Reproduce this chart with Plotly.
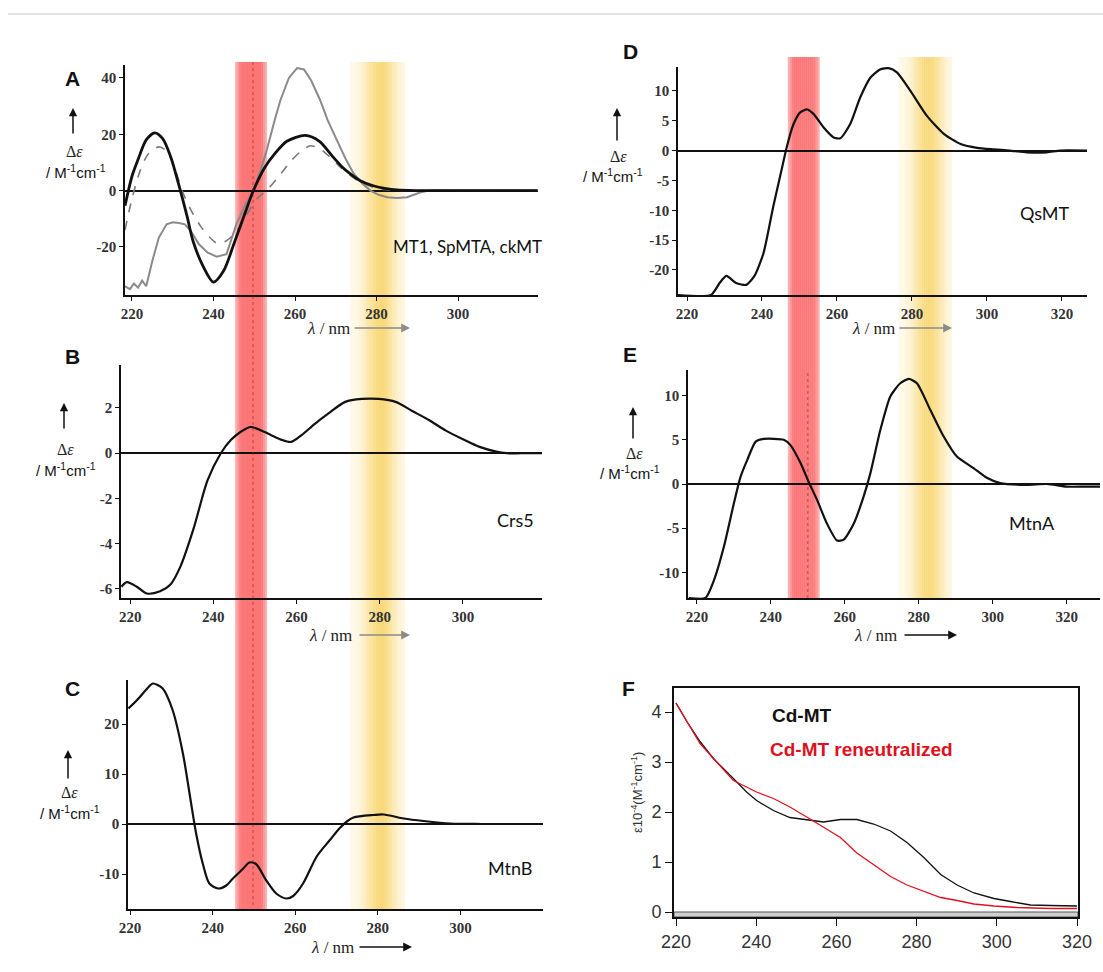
import plotly.graph_objects as go
import math

W, H = 1103, 972

# ---------------- data ----------------
A_black_wl = [218.3, 220, 221.5, 223.5, 225.6, 227.5, 229.5, 231.5, 233.5, 235, 237.5, 240, 242.5, 245, 247.5,
              249.8, 252.5, 255, 258, 262.5, 266, 269, 271.5, 273.5, 276, 279, 282, 285, 290, 300, 310, 319.5]
A_black_val = [-5.4, 5, 11, 18, 20.5, 18.5, 12, 2, -9, -18, -27, -32.5, -28.5, -19, -9,
               0, 8, 13, 17.5, 19.6, 17.5, 12.5, 8.5, 6, 3.5, 1.8, 0.8, 0.2, 0, 0, 0, 0]
A_gray_wl = [218.3, 219.5, 220.5, 221.5, 222.5, 223.5, 225, 226.6, 228.5, 230, 231.5, 233, 234.5, 236.4, 238.5,
             240.8, 243.2, 245.6, 247.5, 249.8, 251.5, 253, 255, 256.4, 258.5, 260.5, 262.2, 264, 266.2, 268,
             270.3, 272.5, 274.4, 276.5, 278.5, 280.5, 282.6, 285, 287.5, 290.8, 293, 300, 310, 319.5]
A_gray_val = [-34, -35, -33, -34.5, -32, -34, -25, -16.7, -12, -11.3, -11.5, -12, -14.5, -19, -22,
              -23.5, -22.6, -12, -6, 0, 7, 14, 25, 32, 40, 43.5, 43, 39, 32, 25,
              17.8, 11, 6, 2.5, 0, -1.5, -2.4, -2.6, -2.4, -0.6, 0, 0, 0, 0]
A_dash_wl = [218.3, 220, 222, 224, 226.6, 228.5, 230.5, 232.3, 234.5, 237, 239, 241, 243, 245.6, 248, 250.6,
             253, 256, 259, 261.5, 263.8, 266, 268.5, 271, 273.5, 276, 278.5, 280.8, 285, 295, 319.5]
A_dash_val = [-14, -3, 7, 13, 15.5, 14, 8, 0, -7, -13, -16.5, -18.8, -18, -14.6, -9, -3,
              0, 5, 10.5, 14, 15.9, 15, 12, 8.5, 5.4, 3, 1.5, 0.6, 0, 0, 0]

B_wl = [217.9, 219.2, 221.6, 224, 227.2, 229.7, 232.1, 235.3, 238.6, 241.8, 244.2, 246.6, 249, 251.5, 253.9,
        256.3, 258.7, 261.2, 264.4, 267.6, 271.7, 275.7, 279.7, 283.8, 287.8, 291.9, 295.9, 300, 304, 308,
        310.5, 314, 319]
B_val = [-5.9, -5.7, -5.9, -6.2, -6.1, -5.8, -5.0, -3.3, -1.2, 0, 0.58, 0.95, 1.16, 1.0, 0.8,
         0.6, 0.5, 0.8, 1.3, 1.75, 2.27, 2.4, 2.4, 2.27, 1.87, 1.46, 1.0, 0.62, 0.28, 0.07,
         0, 0, 0]

C_wl = [219.6, 221.7, 224.6, 225.5, 227.9, 230.3, 232.8, 234.4, 236, 237.6, 239.2, 241.3, 243.3, 244.9, 247.3,
        248.9, 250.5, 253, 255.4, 257.9, 259.5, 261.9, 265.2, 268.4, 270.8, 272.5, 274.1, 279, 281.4, 286.3,
        291.1, 297.6, 305, 320]
C_val = [23.1, 24.8, 27.5, 28.1, 27.1, 22.8, 14.1, 6.1, -1.9, -7.9, -11.9, -12.9, -12.3, -10.9, -9,
         -7.7, -8, -11.3, -13.9, -14.9, -14.4, -11.9, -6.5, -3.2, -0.8, 0.5, 1.3, 1.8, 1.9, 1.1,
         0.6, 0.1, 0, 0]

D_wl = [217.6, 226.4, 228.7, 230.5, 233.1, 235.8, 238, 240.4, 243, 245.2, 246.6, 248.4, 250.2, 252, 253.8,
        256.4, 259.1, 260.9, 263.5, 266.2, 268.9, 271.5, 273.8, 276, 279.6, 284, 288.5, 293, 297.4, 301.8,
        306, 310.7, 316, 319.6, 326.7]
D_val = [-24.2, -24.2, -22.2, -21, -22.2, -22.5, -21, -17.2, -9.4, -3.3, 0.56, 4.4, 6.4, 6.9, 6.1,
         3.9, 2.2, 2.05, 4.4, 8.9, 12.2, 13.6, 13.8, 13.1, 10, 5.8, 2.8, 1.1, 0.45, 0.2,
         0, -0.3, -0.3, 0, 0]

E_wl = [217.8, 222.3, 224.6, 227.3, 230, 231.8, 233.6, 235.9, 238.1, 243.5, 245.3, 248, 250.2, 252.5, 255.2,
        257.9, 259.7, 262.4, 265.1, 266.9, 269.6, 272.3, 275, 277.3, 279.5, 283.1, 286.7, 290.3, 294.8, 298.4,
        302, 309.2, 314.6, 320, 325, 329]
E_val = [-12.9, -12.9, -10.9, -7.1, -2.2, 0.8, 2.7, 4.8, 5.1, 5, 4.4, 2.4, 0.26, -1.8, -4.5,
         -6.4, -6.3, -4.5, -1.4, 1.2, 6.1, 9.9, 11.4, 11.9, 11.4, 8.4, 5.4, 3.1, 1.8, 0.7,
         0.1, -0.1, 0, -0.3, -0.3, -0.3]

F_wl = [220, 222.7, 226, 229.3, 234.3, 237.6, 240.1, 244.3, 248.4, 252.6, 256.8, 261, 265.1, 269.3, 273.5,
        277.6, 281.8, 286, 290.1, 294.3, 299.3, 303.4, 308.4, 313.4, 320]
F_cd = [4.18, 3.81, 3.41, 3.07, 2.67, 2.4, 2.23, 2.03, 1.89, 1.85, 1.8, 1.85, 1.85, 1.76, 1.62,
        1.39, 1.09, 0.75, 0.54, 0.38, 0.27, 0.21, 0.14, 0.13, 0.12]
F_re_wl = [220, 226, 234.3, 240.1, 244.3, 248.4, 252.6, 256.8, 261, 265.1, 269.3, 273.5, 277.6, 281.8,
           286, 290.1, 294.3, 299.3, 305, 313.4, 320]
F_re = [4.18, 3.37, 2.63, 2.4, 2.27, 2.1, 1.9, 1.69, 1.49, 1.18, 0.95, 0.71, 0.54, 0.41,
        0.29, 0.23, 0.16, 0.12, 0.09, 0.07, 0.07]

A_yticks = [-20, 0, 20, 40]
B_yticks = [-6, -4, -2, 0, 2]
C_yticks = [-10, 0, 10, 20]
D_yticks = [-20, -15, -10, -5, 0, 5, 10]
E_yticks = [-10, -5, 0, 5, 10]
F_yticks = [0, 1, 2, 3, 4]
X_ticks_short = [220, 240, 260, 280, 300]
X_ticks_long = [220, 240, 260, 280, 300, 320]

RED_BAND_L = (245.3, 253.1)
YEL_BAND_L = (273.5, 287.0)
RED_BAND_R = (244.6, 253.2)
YEL_BAND_R = (274.6, 289.0)


def PX(x):
    return x / W


def PY(y):
    return 1 - y / H


fig = go.Figure()

serif_tick = dict(family="Liberation Serif", size=15, color="#333333", weight="bold")

panels = [
    ("1", (125, 538), (65, 295), (218.3, 319.6), (-37.1, 44.6), A_yticks, X_ticks_short),
    ("2", (121, 542), (365, 598), (217.8, 319.0), (-6.4, 3.9), B_yticks, X_ticks_short),
    ("3", (128, 543), (680, 909), (219.5, 320.0), (-17.0, 28.8), C_yticks, X_ticks_short),
    ("4", (678, 1087), (67, 295), (217.6, 326.7), (-24.2, 14.0), D_yticks, X_ticks_long),
    ("5", (688, 1100), (370, 598), (217.6, 329.0), (-12.9, 12.9), E_yticks, X_ticks_long),
]

layout = dict(
    width=W, height=H, margin=dict(l=0, r=0, t=0, b=0, pad=0), autosize=False,
    paper_bgcolor="white", plot_bgcolor="rgba(0,0,0,0)", showlegend=False,
)

for name, xd, yd, xr, yr, yt, xt in panels:
    xa = "xaxis" if name == "1" else "xaxis" + name
    ya = "yaxis" if name == "1" else "yaxis" + name
    layout[xa] = dict(
        domain=[PX(xd[0]), PX(xd[1])], range=list(xr), anchor="y" if name == "1" else "y" + name,
        showline=True, linecolor="#111", linewidth=1.5, ticks="outside", ticklen=4, tickcolor="#111",
        showgrid=False, zeroline=False, tickvals=xt, ticktext=[str(v) for v in xt],
        tickfont=serif_tick, fixedrange=True, automargin=False,
    )
    layout[ya] = dict(
        domain=[PY(yd[1]), PY(yd[0])], range=list(yr), anchor="x" if name == "1" else "x" + name,
        showline=True, linecolor="#111", linewidth=1.5, ticks="outside", ticklen=4, tickcolor="#111",
        showgrid=False, zeroline=True, zerolinecolor="#111", zerolinewidth=1.6,
        tickvals=yt, ticktext=[str(v) for v in yt], tickfont=serif_tick, fixedrange=True, automargin=False,
    )

layout["xaxis6"] = dict(
    domain=[PX(674), PX(1078)], range=[219.5, 320.25], anchor="y6",
    showline=True, mirror=True, linecolor="#111", linewidth=2, ticks="outside", ticklen=7,
    tickcolor="#111", showgrid=False, zeroline=False, tickvals=X_ticks_long,
    ticktext=[str(v) for v in X_ticks_long], automargin=False,
    tickfont=dict(family="Liberation Sans", size=18, color="#333"),
)
layout["yaxis6"] = dict(
    domain=[PY(917), PY(688)], range=[-0.1, 4.48], anchor="x6",
    showline=True, mirror=True, linecolor="#111", linewidth=2, ticks="outside", ticklen=7,
    tickcolor="#111", showgrid=False, zeroline=False, tickvals=F_yticks,
    ticktext=[str(v) for v in F_yticks], automargin=False,
    tickfont=dict(family="Liberation Sans", size=18, color="#333"),
)

fig.add_trace(go.Scatter(x=A_gray_wl, y=A_gray_val, mode="lines", line=dict(color="#8a8a8a", width=2),
                         xaxis="x", yaxis="y"))
fig.add_trace(go.Scatter(x=A_dash_wl, y=A_dash_val, mode="lines",
                         line=dict(color="#7a7a7a", width=1.6, dash="dash", shape="spline", smoothing=0.8),
                         xaxis="x", yaxis="y"))
fig.add_trace(go.Scatter(x=A_black_wl, y=A_black_val, mode="lines",
                         line=dict(color="#111", width=2.8, shape="spline", smoothing=0.8),
                         xaxis="x", yaxis="y"))
fig.add_trace(go.Scatter(x=B_wl, y=B_val, mode="lines",
                         line=dict(color="#111", width=2.2, shape="spline", smoothing=0.8),
                         xaxis="x2", yaxis="y2"))
fig.add_trace(go.Scatter(x=C_wl, y=C_val, mode="lines",
                         line=dict(color="#111", width=2.2, shape="spline", smoothing=0.8),
                         xaxis="x3", yaxis="y3"))
fig.add_trace(go.Scatter(x=D_wl, y=D_val, mode="lines",
                         line=dict(color="#111", width=2.2, shape="spline", smoothing=0.6),
                         xaxis="x4", yaxis="y4", cliponaxis=False))
fig.add_trace(go.Scatter(x=E_wl, y=E_val, mode="lines",
                         line=dict(color="#111", width=2.2, shape="spline", smoothing=0.6),
                         xaxis="x5", yaxis="y5", cliponaxis=False))
fig.add_trace(go.Scatter(x=F_wl, y=F_cd, mode="lines", line=dict(color="#111", width=1.3),
                         xaxis="x6", yaxis="y6"))
fig.add_trace(go.Scatter(x=F_re_wl, y=F_re, mode="lines", line=dict(color="#e0101e", width=1.3),
                         xaxis="x6", yaxis="y6"))

shapes = []


def band(x0, x1, xref, ytop, ybot, rgb, alpha_fn, n):
    step = (x1 - x0) / n
    for i in range(n):
        t = (i + 0.5) / n
        a = alpha_fn(t)
        shapes.append(dict(type="rect", xref=xref, yref="paper", x0=x0 + i * step, x1=x0 + (i + 1) * step + step * 0.05,
                           y0=PY(ybot), y1=PY(ytop), fillcolor="rgba(%d,%d,%d,%.3f)" % (rgb + (a,)),
                           line=dict(width=0), layer="below"))


def red_alpha(t):
    return 0.42 + 0.43 * min(1.0, t / 0.18, (1 - t) / 0.18)


def yel_alpha(t):
    return 0.10 + 0.72 * math.exp(-((t - 0.55) / 0.28) ** 2)


band(RED_BAND_L[0], RED_BAND_L[1], "x", 62, 910, (252, 95, 95), red_alpha, 16)
band(YEL_BAND_L[0], YEL_BAND_L[1], "x", 62, 910, (247, 208, 90), yel_alpha, 26)
band(RED_BAND_R[0], RED_BAND_R[1], "x5", 57, 598, (252, 95, 95), red_alpha, 16)
band(YEL_BAND_R[0], YEL_BAND_R[1], "x5", 57, 598, (247, 208, 90), yel_alpha, 26)

shapes.append(dict(type="line", xref="x", yref="paper", x0=249.7, x1=249.7, y0=PY(905), y1=PY(62),
                   line=dict(color="rgba(140,20,20,0.55)", width=1, dash="dot")))
shapes.append(dict(type="line", xref="x5", yref="y5", x0=250, x1=250, y0=-12.9, y1=12.9,
                   line=dict(color="rgba(140,20,20,0.55)", width=1, dash="dot")))

shapes.append(dict(type="rect", xref="x6", yref="y6", x0=219.5, x1=320.25, y0=-0.1, y1=0.0,
                   fillcolor="#cfcfcf", line=dict(color="#555", width=1)))

shapes.append(dict(type="line", xref="paper", yref="paper", x0=PX(8), x1=1, y0=PY(14), y1=PY(14),
                   line=dict(color="#e2e2e2", width=2)))

ann = []


def text(x, y, s, size, family="Liberation Sans", color="#111", weight="normal", xanchor="center", angle=0):
    ann.append(dict(x=PX(x), y=PY(y), xref="paper", yref="paper", text=s, showarrow=False,
                    xanchor=xanchor, yanchor="middle", textangle=angle,
                    font=dict(family=family, size=size, color=color, weight=weight)))


def arrow(xh, yh, xt, yt, color="#111", width=1.5):
    ann.append(dict(x=PX(xh), y=PY(yh), xref="paper", yref="paper", ax=xt - xh, ay=yt - yh,
                    axref="pixel", ayref="pixel", text="", showarrow=True, arrowhead=2, arrowsize=1.1,
                    arrowwidth=width, arrowcolor=color, standoff=0, startstandoff=0))


for letter, (x, y) in zip("ABCDEF", [(72, 78), (72, 356), (72, 688), (630, 52), (630, 355), (628, 688)]):
    text(x, y, letter, 21, weight="bold")

text(467, 247, "MT1, SpMTA, ckMT", 17, family="Lato")
text(515, 520, "Crs5", 18, family="Lato")
text(510, 868, "MtnB", 18, family="Lato")
text(1045, 213, "QsMT", 18, family="Lato")
text(1032, 523, "MtnA", 18, family="Lato")

for (ax_x, y_head, y_tail, y_de, y_unit, x_unit) in [
    (73, 108, 135, 152, 172, 76),
    (64, 403, 430, 449, 469, 66),
    (68, 750, 780, 792, 812, 70),
    (617, 108, 142, 156, 175, 613),
    (633, 407, 440, 453, 472, 630),
]:
    arrow(ax_x, y_head, ax_x, y_tail)
    text(ax_x + 1, y_de, "Δ<i>ε</i>", 16, family="Liberation Serif", color="#222")
    text(x_unit, y_unit, "/ M<sup>-1</sup>cm<sup>-1</sup>", 15, color="#111")

for (xt, y, xa0, xa1, col) in [
    (328, 328, 353, 410, "#8c8c86"),
    (330, 635, 358, 410, "#8c8c86"),
    (332, 947, 358, 412, "#111"),
    (873, 328, 898, 952, "#8c8c86"),
    (875, 635, 903, 957, "#111"),
]:
    text(xt, y, "<i>λ</i> / nm", 17, family="Liberation Serif", color="#222")
    arrow(xa1, y, xa0, y, color=col, width=1.6)

text(770, 715, "Cd-MT", 19, weight="bold", xanchor="left")
text(768, 749, "Cd-MT reneutralized", 19, weight="bold", color="#e0101e", xanchor="left")
text(637, 793, "ε10<sup>-4</sup>(M<sup>-1</sup>cm<sup>-1</sup>)", 13, color="#333", angle=-90)

layout["shapes"] = shapes
layout["annotations"] = ann
fig.update_layout(**layout)

fig.write_html("out.html")
